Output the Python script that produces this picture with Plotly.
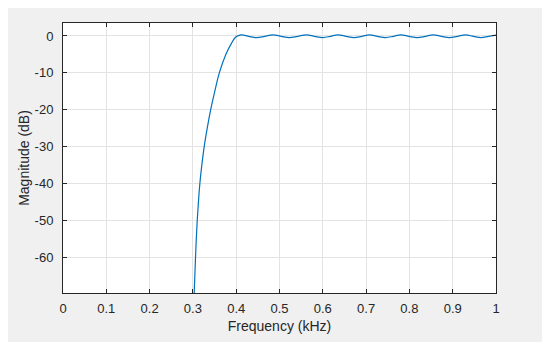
import plotly.graph_objects as go

# Frequency response (kHz, dB)
freq_khz = [0.3015, 0.3030, 0.3060, 0.3078, 0.3100, 0.3127, 0.3160, 0.3205, 0.3260,
            0.3330, 0.3410, 0.3505, 0.3610, 0.3760, 0.3890, 0.3990, 0.4110,
            0.4290, 0.4470, 0.4660, 0.4850, 0.5040, 0.5230, 0.5420, 0.5620,
            0.5810, 0.6000, 0.6180, 0.6350, 0.6540, 0.6720, 0.6900, 0.7080,
            0.7260, 0.7450, 0.7630, 0.7800, 0.7990, 0.8180, 0.8370, 0.8550,
            0.8740, 0.8920, 0.9110, 0.9300, 0.9480, 0.9650, 0.9830, 1.0000]
mag_db = [-75.0, -69.5, -60.0, -55.0, -50.0, -45.0, -40.0, -35.0, -30.0,
          -25.0, -20.0, -15.0, -10.0, -5.0, -2.0, -0.3, 0.3,
          -0.1, -0.45, -0.1, 0.3, -0.1, -0.45, -0.1, 0.3,
          -0.1, -0.45, -0.1, 0.3, -0.1, -0.45, -0.1, 0.3,
          -0.1, -0.45, -0.1, 0.3, -0.1, -0.45, -0.1, 0.3,
          -0.1, -0.45, -0.1, 0.3, -0.1, -0.45, -0.1, 0.2]

x_ticks = [0, 0.1, 0.2, 0.3, 0.4, 0.5, 0.6, 0.7, 0.8, 0.9, 1.0]
x_tick_text = ["0", "0.1", "0.2", "0.3", "0.4", "0.5", "0.6", "0.7", "0.8", "0.9", "1"]
y_ticks = [-60, -50, -40, -30, -20, -10, 0]
y_tick_text = ["-60", "-50", "-40", "-30", "-20", "-10", "0"]

axis_color = "#262626"
grid_color = "#e3e3e3"
font_family = "Liberation Sans, Arial, sans-serif"

fig = go.Figure()
fig.add_trace(go.Scatter(
    x=freq_khz, y=mag_db, mode="lines",
    line=dict(color="#0072BD", width=1.2, shape="spline", smoothing=1.0),
    hoverinfo="skip", showlegend=False,
))

# page body has an 8px margin, so figure coordinates are offset by 8px
OFF = 8
L, R, T, B = 63 - OFF, 496 - OFF, 23 - OFF, 293 - OFF
W, H = 550 - OFF, 351 - OFF
pw, ph = R - L, B - T
gx0, gx1, gy0, gy1 = 8 - OFF, 543 - OFF, 7 - OFF, 342 - OFF

fig.update_layout(
    width=W, height=H,
    margin=dict(l=L, r=W - R, t=T, b=H - B, pad=0),
    paper_bgcolor="white",
    plot_bgcolor="white",
    font=dict(family=font_family, size=13, color=axis_color),
    shapes=[
        dict(type="rect", xref="paper", yref="paper", layer="below",
             x0=(gx0 - L) / pw, x1=(gx1 - L) / pw,
             y0=(B - gy1) / ph, y1=(B - gy0) / ph,
             fillcolor="#f0f0f0", line=dict(width=0)),
        dict(type="rect", xref="paper", yref="paper", layer="below",
             x0=0, x1=1, y0=0, y1=1,
             fillcolor="white", line=dict(width=0)),
    ],
)

fig.update_xaxes(
    range=[0, 1], tickvals=x_ticks, ticktext=x_tick_text,
    showgrid=True, gridcolor=grid_color, gridwidth=1,
    zeroline=False, showline=True, linecolor=axis_color, linewidth=1,
    mirror="ticks", ticks="inside", ticklen=4, tickcolor=axis_color,
    tickfont=dict(size=13, color=axis_color),
    ticklabelstandoff=3,
    title=dict(text="Frequency (kHz)", font=dict(size=14, color=axis_color), standoff=6),
)
fig.update_yaxes(
    range=[-69.5, 3.5], tickvals=y_ticks, ticktext=y_tick_text,
    showgrid=True, gridcolor=grid_color, gridwidth=1,
    zeroline=False, showline=True, linecolor=axis_color, linewidth=1,
    mirror="ticks", ticks="inside", ticklen=4, tickcolor=axis_color,
    tickfont=dict(size=13, color=axis_color),
    ticklabelstandoff=6,
    title=dict(text="Magnitude (dB)", font=dict(size=14, color=axis_color), standoff=1),
)

fig.write_html("out.html")
